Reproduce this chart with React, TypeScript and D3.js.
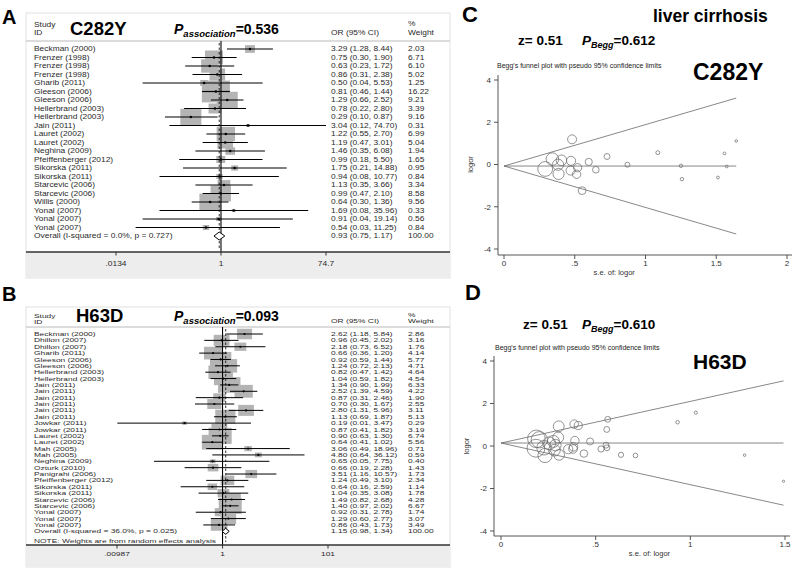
import React from 'react';
import * as d3 from 'd3';

// ---------- Panel A : C282Y ----------
const studiesA = [
  'Beckman (2000)', 'Frenzer (1998)', 'Frenzer (1998)', 'Frenzer (1998)', 'Gharib (2011)',
  'Gleeson (2006)', 'Gleeson (2006)', 'Hellerbrand (2003)', 'Hellerbrand (2003)', 'Jain (2011)',
  'Lauret (2002)', 'Lauret (2002)', 'Neghina (2009)', 'Pfeiffenberger (2012)', 'Sikorska (2011)',
  'Sikorska (2011)', 'Starcevic (2006)', 'Starcevic (2006)', 'Willis (2000)', 'Yonal (2007)',
  'Yonal (2007)', 'Yonal (2007)',
];
const orA = [3.29, 0.75, 0.63, 0.86, 0.50, 0.81, 1.29, 0.78, 0.29, 3.04, 1.22, 1.19, 1.46, 0.99, 1.75, 0.94, 1.13, 0.99, 0.64, 1.69, 0.91, 0.54];
const loA = [1.28, 0.30, 0.23, 0.31, 0.04, 0.46, 0.66, 0.22, 0.10, 0.12, 0.55, 0.47, 0.35, 0.18, 0.21, 0.08, 0.35, 0.47, 0.30, 0.08, 0.04, 0.03];
const hiA = [8.44, 1.90, 1.72, 2.38, 5.53, 1.44, 2.52, 2.80, 0.87, 74.70, 2.70, 3.01, 6.08, 5.50, 14.88, 10.77, 3.66, 2.10, 1.36, 35.96, 19.14, 11.25];
const wA = [2.03, 6.71, 6.10, 5.02, 1.25, 16.22, 9.21, 3.39, 9.16, 0.31, 6.99, 5.04, 1.94, 1.65, 0.95, 0.84, 3.34, 8.58, 9.56, 0.33, 0.56, 0.84];
const overallA = [0.93, 0.75, 1.17];
const overallLabelA = 'Overall  (I-squared = 0.0%, p = 0.727)';
const ticksA = [0.0134, 1, 74.7];
const tickLabelsA = ['.0134', '1', '74.7'];

// ---------- Panel B : H63D ----------
const studiesB = [
  'Beckman (2000)', 'Dhillon (2007)', 'Dhillon (2007)', 'Gharib (2011)', 'Gleeson (2006)',
  'Gleeson (2006)', 'Hellerbrand (2003)', 'Hellerbrand (2003)', 'Jain (2011)', 'Jain (2011)',
  'Jain (2011)', 'Jain (2011)', 'Jain (2011)', 'Jain (2011)', 'Jowkar (2011)', 'Jowkar (2011)',
  'Lauret (2002)', 'Lauret (2002)', 'Mah (2005)', 'Mah (2005)', 'Neghina (2009)', 'Ozturk (2010)',
  'Panigrahi (2006)', 'Pfeiffenberger (2012)', 'Sikorska (2011)', 'Sikorska (2011)',
  'Starcevic (2006)', 'Starcevic (2006)', 'Yonal (2007)', 'Yonal (2007)', 'Yonal (2007)',
];
const orB = [2.62, 0.96, 2.18, 0.66, 0.92, 1.24, 0.82, 1.04, 1.34, 2.52, 0.87, 0.70, 2.80, 1.13, 0.19, 0.87, 0.90, 0.64, 3.06, 4.80, 0.65, 0.66, 3.51, 1.24, 0.64, 1.04, 1.49, 1.40, 0.92, 1.29, 0.86];
const loB = [1.18, 0.45, 0.73, 0.36, 0.59, 0.72, 0.47, 0.59, 0.90, 1.39, 0.31, 0.30, 1.31, 0.69, 0.01, 0.41, 0.63, 0.41, 0.49, 0.64, 0.05, 0.19, 1.16, 0.49, 0.16, 0.35, 0.82, 0.97, 0.31, 0.60, 0.43];
const hiB = [5.84, 2.02, 6.52, 1.20, 1.44, 2.13, 1.42, 1.82, 1.99, 4.59, 2.46, 1.67, 5.96, 1.87, 3.47, 1.82, 1.30, 1.02, 18.96, 36.12, 7.75, 2.28, 10.57, 3.10, 2.59, 3.08, 2.68, 2.02, 2.78, 2.77, 1.73];
const wB = [2.86, 3.16, 1.76, 4.14, 5.77, 4.71, 4.64, 4.54, 6.33, 4.22, 1.90, 2.55, 3.11, 5.13, 0.29, 3.19, 6.74, 5.56, 0.71, 0.59, 0.40, 1.43, 1.73, 2.34, 1.14, 1.78, 4.28, 6.67, 1.74, 3.07, 3.49];
const overallB = [1.15, 0.98, 1.34];
const overallLabelB = 'Overall  (I-squared = 36.0%, p = 0.025)';
const ticksB = [0.00987, 1, 101];
const tickLabelsB = ['.00987', '1', '101'];

// ---------- Funnel ticks ----------
const funnelYTicks = [-4, -2, 0, 2, 4];
const funnelXTicksC = [0, 0.5, 1, 1.5, 2];
const funnelXTicksD = [0, 0.5, 1, 1.5];
const funnelXLabelsC = ['0', '.5', '1', '1.5', '2'];
const funnelXLabelsD = ['0', '.5', '1', '1.5'];

const FONT = '"Liberation Sans", Arial, Helvetica, sans-serif';
const fmt = (v: number) => v.toFixed(2);

const T = ({ x, y, size, sy = 1, children, bold = false, anchor = 'start', fill = '#2a2a2a', italic = false }: any) => (
  <text
    transform={`translate(${x},${y}) scale(1,${sy})`}
    fontSize={size}
    fontFamily={FONT}
    fontWeight={bold ? 'bold' : 'normal'}
    fontStyle={italic ? 'italic' : 'normal'}
    textAnchor={anchor}
    fill={fill}
  >
    {children}
  </text>
);

function Forest({ studies, or, lo, hi, w, overall, overallLabel, ticks, tickLabels, g }: any) {
  const x = d3.scaleLog().domain(d3.extent(ticks) as [number, number]).range(g.range);
  const n = studies.length;
  const rowY = (i: number) => g.firstY + i * g.step;
  const fs = 8.4;
  const base = (i: number) => rowY(i) + 0.36 * fs * g.sy;
  const oy = rowY(n);
  const left = 26, right = 450;
  const wx = 408;
  return (
    <g>
      <rect x={left} y={g.top} width={right - left} height={g.bottom - g.top} fill="#fff" stroke="#e2e2e2" strokeWidth={1} />
      <rect x={left} y={g.axisY} width={right - left} height={g.bottom - g.axisY} fill="#ededed" />
      <line x1={left} x2={right} y1={g.headerY} y2={g.headerY} stroke="#d0d0d0" strokeWidth={1.4} />
      {/* header */}
      <T x={34} y={g.studyY} size={fs} sy={g.sy}>Study</T>
      <T x={34} y={g.idY} size={fs} sy={g.sy}>ID</T>
      <T x={g.titleX} y={g.titleY} size={18.5} bold fill="#000">{g.title}</T>
      <text x={174} y={g.titleY - 1} fontFamily={FONT} fontWeight="bold" fontSize={14} fill="#000">
        <tspan fontStyle="italic">P</tspan>
        <tspan fontStyle="italic" fontSize={9.5} dy={3}>association</tspan>
        <tspan dy={-3}>={g.pval}</tspan>
      </text>
      <T x={331} y={g.orHeadY} size={fs} sy={g.sy}>OR (95% CI)</T>
      <T x={wx} y={g.pctY} size={fs} sy={g.sy}>%</T>
      <T x={wx} y={g.orHeadY} size={fs} sy={g.sy}>Weight</T>
      {/* boxes */}
      {or.map((v: number, i: number) => {
        const bw = g.boxK * Math.sqrt(w[i]);
        const bh = bw * g.boxAspect;
        return <rect key={'b' + i} x={x(v) - bw / 2} y={rowY(i) - bh / 2} width={bw} height={bh} fill="#b4b4b4" />;
      })}
      {/* reference lines */}
      <line x1={x(1)} x2={x(1)} y1={g.headerY} y2={g.axisY} stroke="#000" strokeWidth={1.1} />
      <line x1={x(overall[0])} x2={x(overall[0])} y1={g.headerY + 2} y2={g.axisY - 3} stroke="#000" strokeWidth={0.8} strokeDasharray="2.5,2" />
      {/* CIs */}
      {or.map((v: number, i: number) => (
        <g key={'c' + i}>
          <line x1={x(lo[i])} x2={x(hi[i])} y1={rowY(i)} y2={rowY(i)} stroke="#000" strokeWidth={g.ciW} />
          <circle cx={x(v)} cy={rowY(i)} r={g.dotR} fill="#000" />
        </g>
      ))}
      {/* overall diamond */}
      <polygon
        points={`${x(overall[1])},${oy} ${x(overall[0])},${oy - g.diaH / 2} ${x(overall[2])},${oy} ${x(overall[0])},${oy + g.diaH / 2}`}
        fill="#fff" stroke="#000" strokeWidth={1}
      />
      {/* text rows */}
      {studies.map((s: string, i: number) => (
        <g key={'t' + i}>
          <T x={34} y={base(i)} size={fs} sy={g.sy}>{s}</T>
          <T x={331} y={base(i)} size={fs} sy={g.sy}>{`${fmt(or[i])} (${fmt(lo[i])}, ${fmt(hi[i])})`}</T>
          <T x={wx} y={base(i)} size={fs} sy={g.sy}>{fmt(w[i])}</T>
        </g>
      ))}
      <T x={34} y={base(n)} size={fs} sy={g.sy}>{overallLabel}</T>
      <T x={331} y={base(n)} size={fs} sy={g.sy}>{`${fmt(overall[0])} (${fmt(overall[1])}, ${fmt(overall[2])})`}</T>
      <T x={wx} y={base(n)} size={fs} sy={g.sy}>100.00</T>
      {g.note && <T x={34} y={g.noteY} size={fs} sy={g.sy}>{g.note}</T>}
      {/* axis */}
      <line x1={left} x2={right} y1={g.axisY} y2={g.axisY} stroke="#333" strokeWidth={1.4} />
      {ticks.map((t: number, i: number) => (
        <g key={'k' + i}>
          <line x1={x(t)} x2={x(t)} y1={g.axisY} y2={g.axisY + 3.5} stroke="#333" strokeWidth={1} />
          <T x={x(t)} y={g.tickY} size={fs} sy={g.sy} anchor="middle">{tickLabels[i]}</T>
        </g>
      ))}
    </g>
  );
}

function Funnel({ or, lo, hi, pooled, xTicks, xLabels, g }: any) {
  const x = d3.scaleLinear().domain(d3.extent(xTicks) as [number, number]).range(g.xRange);
  const y = d3.scaleLinear().domain([-4, 4]).range(g.yRange);
  const pts = or.map((v: number, i: number) => ({
    lor: Math.log(v),
    se: (Math.log(hi[i]) - Math.log(lo[i])) / (2 * 1.959964),
  }));
  const maxSe = d3.max(pts, (p: any) => p.se) as number;
  const pl = Math.log(pooled);
  const line = d3.line<[number, number]>().x((d) => x(d[0])).y((d) => y(d[1]));
  const gray = '#6a6a6a';
  return (
    <g>
      <T x={g.letterX} y={g.letterY} size={22} bold fill="#000">{g.letter}</T>
      {g.extra && <T x={653} y={22} size={17.5} bold fill="#000">{g.extra}</T>}
      <T x={g.zX} y={g.zY} size={13.5} bold fill="#000">z= 0.51</T>
      <text x={582} y={g.zY} fontFamily={FONT} fontWeight="bold" fontSize={13.5} fill="#000">
        <tspan fontStyle="italic">P</tspan>
        <tspan fontStyle="italic" fontSize={9} dy={3}>Begg</tspan>
        <tspan dy={-3}>={g.pval}</tspan>
      </text>
      <T x={g.subX} y={g.subY} size={7} fill="#222">Begg's funnel plot with pseudo 95% confidence limits</T>
      <T x={g.nameX} y={g.nameY} size={g.nameSize} bold fill="#000">{g.name}</T>
      {/* axes */}
      <line x1={g.axisX} x2={g.axisX} y1={g.yTop} y2={g.axisY} stroke="#444" strokeWidth={0.9} />
      <line x1={g.axisX} x2={g.xRight} y1={g.axisY} y2={g.axisY} stroke="#444" strokeWidth={0.9} />
      {funnelYTicks.map((t) => (
        <g key={'y' + t}>
          <line x1={g.axisX - 4} x2={g.axisX} y1={y(t)} y2={y(t)} stroke="#444" strokeWidth={0.9} />
          <T x={g.axisX - 7} y={y(t) + 2.8} size={8} anchor="end" fill="#333">{String(t)}</T>
        </g>
      ))}
      {xTicks.map((t: number, i: number) => (
        <g key={'x' + i}>
          <line x1={x(t)} x2={x(t)} y1={g.axisY} y2={g.axisY + 4} stroke="#444" strokeWidth={0.9} />
          <T x={x(t)} y={g.axisY + 11} size={8} anchor="middle" fill="#333">{xLabels[i]}</T>
        </g>
      ))}
      <T x={x(0.8) - 3} y={g.axisY + 20} size={7.5} anchor="middle" fill="#333">s.e. of: logor</T>
      <text transform={`translate(${g.axisX - 25},${y(0)}) rotate(-90)`} fontSize={7.5} fontFamily={FONT} textAnchor="middle" fill="#333">logor</text>
      {/* funnel lines */}
      <path d={line([[0, pl], [maxSe, pl + 1.96 * maxSe]]) as string} stroke={gray} strokeWidth={0.8} fill="none" />
      <path d={line([[0, pl], [maxSe, pl - 1.96 * maxSe]]) as string} stroke={gray} strokeWidth={0.8} fill="none" />
      <path d={line([[0, pl], [maxSe, pl]]) as string} stroke={gray} strokeWidth={0.8} fill="none" />
      {pts.map((p: any, i: number) => (
        <circle key={'p' + i} cx={x(p.se)} cy={y(p.lor)} r={g.k / p.se} fill="none" stroke="#666" strokeWidth={0.7} />
      ))}
    </g>
  );
}

export default function App() {
  const gA = {
    top: 13, headerY: 41, axisY: 252, bottom: 278, firstY: 49, step: 8.5,
    range: [116, 326], boxK: 6.95, boxAspect: 0.78, sy: 0.8, ciW: 1.2, dotR: 1.3, diaH: 8,
    studyY: 26.5, idY: 34.5, orHeadY: 34.5, pctY: 26, titleX: 70, titleY: 35, title: 'C282Y', pval: '0.536',
    tickY: 265.5,
  };
  const gB = {
    top: 307, headerY: 327, axisY: 545, bottom: 567, firstY: 334, step: 6.365,
    range: [117, 328], boxK: 8.9, boxAspect: 0.7, sy: 0.68, ciW: 1.0, dotR: 1.1, diaH: 6,
    studyY: 317.5, idY: 324, orHeadY: 323, pctY: 317, titleX: 76, titleY: 322, title: 'H63D', pval: '0.093',
    tickY: 556, note: 'NOTE: Weights are from random effects analysis', noteY: 542.5,
  };
  const gC = {
    letter: 'C', letterX: 462, letterY: 22, extra: 'liver cirrhosis', zX: 518, zY: 45, pval: '0.612',
    subX: 497, subY: 67.5, name: 'C282Y', nameX: 693, nameY: 80, nameSize: 23,
    xRange: [504, 787], yRange: [249, 80], axisX: 498, axisY: 255, yTop: 75, xRight: 792, k: 2.15,
  };
  const gD = {
    letter: 'D', letterX: 465, letterY: 300, zX: 523, zY: 329, pval: '0.610',
    subX: 495, subY: 349.5, name: 'H63D', nameX: 693, nameY: 369, nameSize: 21,
    xRange: [501, 785], yRange: [531, 361], axisX: 494, axisY: 536, yTop: 356, xRight: 790, k: 1.65,
  };
  return (
    <svg width={794} height={568} style={{ position: 'absolute', left: 0, top: 0, background: '#fff' }}>
      <rect width={794} height={568} fill="#fff" />
      <T x={2} y={24} size={20} bold fill="#000">A</T>
      <T x={2} y={301} size={20} bold fill="#000">B</T>
      <Forest studies={studiesA} or={orA} lo={loA} hi={hiA} w={wA} overall={overallA} overallLabel={overallLabelA} ticks={ticksA} tickLabels={tickLabelsA} g={gA} />
      <Forest studies={studiesB} or={orB} lo={loB} hi={hiB} w={wB} overall={overallB} overallLabel={overallLabelB} ticks={ticksB} tickLabels={tickLabelsB} g={gB} />
      <Funnel or={orA} lo={loA} hi={hiA} pooled={overallA[0]} xTicks={funnelXTicksC} xLabels={funnelXLabelsC} g={gC} />
      <Funnel or={orB} lo={loB} hi={hiB} pooled={overallB[0]} xTicks={funnelXTicksD} xLabels={funnelXLabelsD} g={gD} />
    </svg>
  );
}
